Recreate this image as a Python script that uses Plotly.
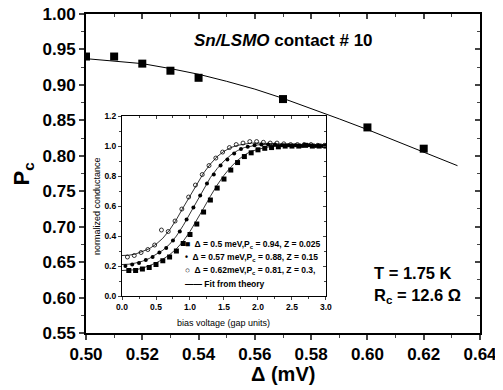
import plotly.graph_objects as go

# ---------------- main data ----------------
delta_mev = [0.50, 0.51, 0.52, 0.53, 0.54, 0.57, 0.60, 0.62]
pc_values = [0.94, 0.94, 0.93, 0.92, 0.91, 0.88, 0.84, 0.81]

fit_delta = [0.50, 0.51, 0.52, 0.53, 0.54, 0.55, 0.56, 0.57, 0.58, 0.59, 0.60, 0.61, 0.62, 0.63, 0.632]
fit_pc = [0.937, 0.934, 0.930, 0.923, 0.915, 0.905, 0.894, 0.881, 0.867, 0.852, 0.837, 0.821, 0.805, 0.789, 0.786]

# ---------------- inset data ----------------
fit_bias = [0.0, 0.1, 0.2, 0.3, 0.4, 0.5, 0.6, 0.7, 0.8, 0.9, 1.0, 1.1, 1.2, 1.3, 1.4, 1.5,
            1.6, 1.7, 1.8, 1.9, 2.0, 2.1, 2.2, 2.3, 2.4, 2.5, 2.6, 2.7, 2.8, 2.9, 3.0]
fit_a = [0.170, 0.170, 0.175, 0.185, 0.200, 0.220, 0.245, 0.275, 0.315, 0.365, 0.430, 0.505, 0.585, 0.665,
         0.740, 0.805, 0.860, 0.905, 0.940, 0.965, 0.980, 0.990, 0.997, 1.000, 1.001, 1.001, 1.001,
         1.001, 1.001, 1.001, 1.001]
fit_b = [0.210, 0.212, 0.220, 0.232, 0.250, 0.275, 0.305, 0.345, 0.400, 0.470, 0.550, 0.635, 0.720, 0.790,
         0.850, 0.900, 0.940, 0.970, 0.990, 1.000, 1.008, 1.010, 1.010, 1.008, 1.006, 1.005, 1.004,
         1.004, 1.003, 1.003, 1.003]
fit_c = [0.270, 0.272, 0.280, 0.295, 0.315, 0.345, 0.385, 0.440, 0.510, 0.590, 0.670, 0.750, 0.820, 0.880,
         0.930, 0.965, 0.990, 1.005, 1.015, 1.020, 1.020, 1.018, 1.015, 1.012, 1.010, 1.008, 1.007,
         1.006, 1.006, 1.005, 1.005]

bias_a = [0.1, 0.2, 0.3, 0.4, 0.5, 0.6, 0.7, 0.8, 0.9, 1.0, 1.1, 1.2, 1.3, 1.4, 1.5,
          1.6, 1.7, 1.8, 1.9, 2.0, 2.1, 2.2, 2.3, 2.4, 2.5, 2.6, 2.7, 2.8, 2.9, 3.0]
cond_a = [0.17, 0.17, 0.18, 0.19, 0.21, 0.235, 0.26, 0.30, 0.35, 0.41, 0.48, 0.56, 0.64, 0.72, 0.78,
          0.84, 0.89, 0.93, 0.955, 0.975, 0.985, 0.99, 0.995, 1.0, 1.0, 1.0, 1.005, 1.0, 1.0, 1.0]

bias_b = [0.05, 0.15, 0.25, 0.35, 0.45, 0.55, 0.65, 0.75, 0.85, 0.95, 1.05, 1.15, 1.25, 1.35, 1.45,
          1.55, 1.65, 1.75, 1.85, 1.95, 2.05, 2.15, 2.25, 2.35, 2.45, 2.55, 2.65, 2.75, 2.85, 2.95]
cond_b = [0.20, 0.21, 0.22, 0.24, 0.26, 0.29, 0.32, 0.37, 0.43, 0.51, 0.59, 0.67, 0.75, 0.81, 0.87,
          0.91, 0.95, 0.98, 0.995, 1.005, 1.01, 1.01, 1.01, 1.005, 1.005, 1.005, 1.0, 1.005, 1.0, 1.0]

bias_c = [0.08, 0.18, 0.28, 0.38, 0.48, 0.58, 0.68, 0.78, 0.88, 0.98, 1.08, 1.18, 1.28, 1.38, 1.48,
          1.58, 1.68, 1.78, 1.88, 1.98, 2.08, 2.18, 2.28, 2.38, 2.48, 2.58, 2.68, 2.78, 2.88, 2.98]
cond_c = [0.26, 0.27, 0.29, 0.31, 0.34, 0.44, 0.43, 0.50, 0.58, 0.66, 0.74, 0.81, 0.87, 0.92, 0.96,
          0.99, 1.01, 1.02, 1.03, 1.03, 1.025, 1.02, 1.02, 1.015, 1.01, 1.01, 1.01, 1.01, 1.005, 1.005]

main_x_ticks = [0.50, 0.52, 0.54, 0.56, 0.58, 0.60, 0.62, 0.64]
main_y_ticks = [0.55, 0.60, 0.65, 0.70, 0.75, 0.80, 0.85, 0.90, 0.95, 1.00]
inset_x_ticks = [0.0, 0.5, 1.0, 1.5, 2.0, 2.5, 3.0]
inset_y_ticks = [0.0, 0.2, 0.4, 0.6, 0.8, 1.0, 1.2]

legend_labels = [
    "\u25a0  \u0394 = 0.5 meV,P<sub>c</sub> = 0.94, Z = 0.025",
    "\u2022  \u0394 = 0.57 meV,P<sub>c</sub> = 0.88, Z = 0.15",
    "\u25cb  \u0394 = 0.62meV,P<sub>c</sub> = 0.81, Z = 0.3,",
    "\u2014\u2014 Fit from theory",
]

FONT = "Liberation Sans, Arial, sans-serif"

fig = go.Figure()

# main
fig.add_trace(go.Scatter(x=fit_delta, y=fit_pc, mode="lines",
                         line=dict(color="black", width=1), xaxis="x", yaxis="y", showlegend=False))
fig.add_trace(go.Scatter(x=delta_mev, y=pc_values, mode="markers",
                         marker=dict(symbol="square", size=8, color="black"),
                         xaxis="x", yaxis="y", showlegend=False))

# inset fits
for fy in (fit_a, fit_b, fit_c):
    fig.add_trace(go.Scatter(x=fit_bias, y=fy, mode="lines", line=dict(color="black", width=0.8),
                             xaxis="x2", yaxis="y2", showlegend=False))
fig.add_trace(go.Scatter(x=bias_a, y=cond_a, mode="markers",
                         marker=dict(symbol="square", size=5, color="black"),
                         xaxis="x2", yaxis="y2", showlegend=False))
fig.add_trace(go.Scatter(x=bias_b, y=cond_b, mode="markers",
                         marker=dict(symbol="circle", size=4, color="black"),
                         xaxis="x2", yaxis="y2", showlegend=False))
fig.add_trace(go.Scatter(x=bias_c, y=cond_c, mode="markers",
                         marker=dict(symbol="circle-open", size=4, color="black", line=dict(width=0.8)),
                         xaxis="x2", yaxis="y2", showlegend=False))

# empty traces to register mirror axes
fig.add_trace(go.Scatter(x=[], y=[], xaxis="x3", yaxis="y3", showlegend=False))
fig.add_trace(go.Scatter(x=[], y=[], xaxis="x4", yaxis="y4", showlegend=False))

inset_dom_x = [0.0914, 0.609]
inset_dom_y = [0.116, 0.680]

tickfont_main = dict(family=FONT, size=17, color="black")
tickfont_inset = dict(family=FONT, size=8.5, color="black")

common = dict(showgrid=False, zeroline=False, automargin=False)

# page body has an 8px default margin; margins below compensate so the plot area
# lands at x 86-480, y 14-333 in the browser window
fig.update_layout(
    width=503, height=390,
    margin=dict(l=78, r=31, t=6, b=65, autoexpand=False),
    paper_bgcolor="white", plot_bgcolor="rgba(0,0,0,0)",
    font=dict(family=FONT, color="black"),
    showlegend=False,
    xaxis=dict(range=[0.50, 0.64], domain=[0, 1], anchor="y", tickvals=main_x_ticks,
               ticktext=[f"<b>{v:.2f}</b>" for v in main_x_ticks], tickfont=tickfont_main,
               ticklabeloverflow="allow",
               ticks="outside", ticklen=5, tickwidth=1.5, showline=True, linewidth=2, linecolor="black",
               minor=dict(ticks="outside", dtick=0.01, ticklen=3, tickwidth=1.2), **common),
    yaxis=dict(range=[0.55, 1.00], domain=[0, 1], anchor="x", tickvals=main_y_ticks,
               ticktext=[f"<b>{v:.2f}</b>" for v in main_y_ticks], tickfont=tickfont_main,
               ticklabeloverflow="allow",
               ticks="outside", ticklen=5, tickwidth=1.5, showline=True, linewidth=2, linecolor="black",
               minor=dict(ticks="outside", dtick=0.025, ticklen=3, tickwidth=1.2), **common),
    xaxis3=dict(range=[0.50, 0.64], overlaying="x", side="top", anchor="y", tickvals=main_x_ticks,
                showticklabels=False, ticks="inside", ticklen=5, tickwidth=1.5, showline=True,
                linewidth=2, linecolor="black",
                minor=dict(ticks="inside", dtick=0.01, ticklen=3, tickwidth=1.2), **common),
    yaxis3=dict(range=[0.55, 1.00], overlaying="y", side="right", anchor="x", tickvals=main_y_ticks,
                showticklabels=False, ticks="inside", ticklen=5, tickwidth=1.5, showline=True,
                linewidth=2, linecolor="black",
                minor=dict(ticks="inside", dtick=0.025, ticklen=3, tickwidth=1.2), **common),
    xaxis2=dict(range=[0, 3], domain=inset_dom_x, anchor="y2", tickvals=inset_x_ticks,
                ticktext=[f"<b>{v:.1f}</b>" for v in inset_x_ticks], tickfont=tickfont_inset,
                ticklabeloverflow="allow",
                ticks="outside", ticklen=3, tickwidth=1, showline=True, linewidth=1.2, linecolor="black",
                minor=dict(ticks="outside", dtick=0.25, ticklen=2, tickwidth=0.8), **common),
    yaxis2=dict(range=[0, 1.2], domain=inset_dom_y, anchor="x2", tickvals=inset_y_ticks,
                ticktext=[f"<b>{v:.1f}</b>" for v in inset_y_ticks], tickfont=tickfont_inset,
                ticklabeloverflow="allow",
                ticks="outside", ticklen=3, tickwidth=1, showline=True, linewidth=1.2, linecolor="black",
                minor=dict(ticks="outside", dtick=0.1, ticklen=2, tickwidth=0.8), **common),
    xaxis4=dict(range=[0, 3], overlaying="x2", side="top", anchor="y2", tickvals=inset_x_ticks,
                showticklabels=False, ticks="inside", ticklen=3, tickwidth=1, showline=True,
                linewidth=1.2, linecolor="black",
                minor=dict(ticks="inside", dtick=0.25, ticklen=2, tickwidth=0.8), **common),
    yaxis4=dict(range=[0, 1.2], overlaying="y2", side="right", anchor="x2", tickvals=inset_y_ticks,
                showticklabels=False, ticks="inside", ticklen=3, tickwidth=1, showline=True,
                linewidth=1.2, linecolor="black",
                minor=dict(ticks="inside", dtick=0.1, ticklen=2, tickwidth=0.8), **common),
)

annotations = [
    dict(text="<b><i>Sn/LSMO</i> contact # 10</b>", x=0.5, y=0.918, xref="paper", yref="paper",
         showarrow=False, font=dict(family=FONT, size=17), xanchor="center", yanchor="middle"),
    dict(text="<b>T = 1.75 K</b>", x=0.725, y=0.188, xref="paper", yref="paper",
         showarrow=False, font=dict(family=FONT, size=16.5), xanchor="left", yanchor="middle"),
    dict(text="<b>R<sub>c</sub> = 12.6 \u03a9</b>", x=0.725, y=0.117, xref="paper", yref="paper",
         showarrow=False, font=dict(family=FONT, size=16.5), xanchor="left", yanchor="middle"),
    dict(text="<b>\u0394 (mV)</b>", x=0.5, y=-0.13, xref="paper", yref="paper",
         showarrow=False, font=dict(family=FONT, size=20), xanchor="center", yanchor="middle"),
    dict(text="<b>P<sub>c</sub></b>", x=-0.16, y=0.5, xref="paper", yref="paper", textangle=-90,
         showarrow=False, font=dict(family=FONT, size=22), xanchor="center", yanchor="middle"),
    dict(text="normalized conductance", x=0.028, y=sum(inset_dom_y) / 2, xref="paper", yref="paper",
         textangle=-90, showarrow=False, font=dict(family=FONT, size=9), xanchor="center",
         yanchor="middle"),
    dict(text="bias voltage (gap units)", x=sum(inset_dom_x) / 2, y=0.03, xref="paper", yref="paper",
         showarrow=False, font=dict(family=FONT, size=9), xanchor="center", yanchor="middle"),
]
leg_y = [0.278, 0.237, 0.196, 0.155]
for lab, ly in zip(legend_labels, leg_y):
    annotations.append(dict(text=f"<b>{lab}</b>", x=0.245, y=ly, xref="paper", yref="paper",
                            showarrow=False, font=dict(family=FONT, size=8.5), xanchor="left",
                            yanchor="middle"))
fig.update_layout(annotations=annotations)

fig.write_html("out.html")
